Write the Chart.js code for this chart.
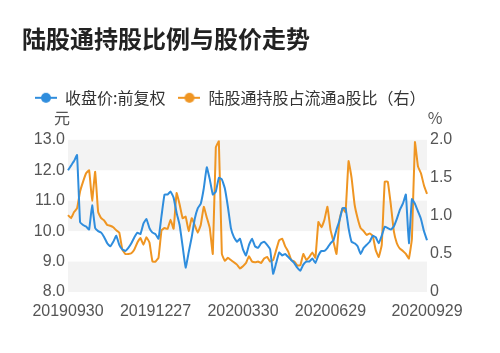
<!DOCTYPE html>
<html>
<head>
<meta charset="utf-8">
<script src="https://cdn.jsdelivr.net/npm/chart.js@4/dist/chart.umd.min.js"></script>
<style>
html, body { margin: 0; padding: 0; background: #fff; }
</style>
</head>
<body>
<canvas id="holdChart" width="500" height="353"></canvas>
<script>
// close price (left axis, 元), sampled evenly across the period
const price = [
  12.0, 12.15, 12.3, 12.5, 10.3, 10.2, 10.15, 10.05, 10.85, 10.1,
  10.0, 9.95, 9.8, 9.6, 9.5, 9.65, 9.85, 9.55, 9.4, 9.35,
  9.45, 9.6, 9.8, 9.95, 9.9, 10.25, 10.4, 10.1, 9.95, 9.9,
  9.75, 10.5, 11.2, 11.2, 11.3, 11.1, 10.6, 10.2, 9.5, 8.8,
  9.3, 9.8, 10.4, 10.75, 10.9, 11.4, 12.1, 11.7, 11.2, 11.3,
  11.75, 11.7, 11.4, 10.8, 10.1, 9.8, 9.65, 9.75, 9.4, 9.2,
  9.55, 9.75, 9.5, 9.45, 9.6, 9.65, 9.55, 9.4, 8.6, 8.95,
  9.3, 9.2, 9.25, 9.15, 9.05, 8.95, 8.8, 8.7, 8.9, 9.0,
  9.0, 9.1, 8.95, 9.2, 9.35, 9.35, 9.45, 9.6, 9.7, 10.05,
  10.35, 10.75, 10.75, 10.1, 9.65, 9.6, 9.5, 9.25, 9.45, 9.55,
  9.65, 9.85, 9.8, 9.6, 9.85, 10.15, 10.1, 10.05, 10.15, 10.4,
  10.7, 10.9, 11.2, 9.6, 11.05, 10.9, 10.65, 10.4, 10.0, 9.7
];

// 陆股通 holding as % of tradable A shares (right axis)
const share = [
  1.01, 0.97, 1.05, 1.1, 1.32, 1.45, 1.56, 1.6, 1.2, 1.58,
  1.05, 0.97, 0.94, 0.88, 0.87, 0.85, 0.81, 0.78, 0.56, 0.5,
  0.5, 0.51, 0.56, 0.65, 0.71, 0.62, 0.72, 0.65, 0.4, 0.4,
  0.45, 0.81, 0.84, 0.83, 0.95, 0.83, 1.3, 1.15, 0.97, 0.99,
  0.8, 0.97, 0.88, 0.78, 0.88, 1.12, 0.98, 0.84, 0.5, 1.9,
  1.98, 0.5, 0.41, 0.45, 0.42, 0.39, 0.36, 0.31, 0.34, 0.38,
  0.47, 0.4, 0.39, 0.4, 0.38, 0.44, 0.46, 0.4, 0.42, 0.55,
  0.68, 0.7, 0.6, 0.53, 0.42, 0.4, 0.35, 0.35, 0.5, 0.42,
  0.46, 0.52, 0.45, 0.92, 0.85, 0.95, 1.12, 0.82, 0.66, 0.5,
  0.95, 1.1, 1.05, 1.72, 1.5, 1.15, 0.97, 0.84, 0.8, 0.75,
  0.77, 0.74, 0.55, 0.46, 0.62, 1.45, 1.45, 1.15, 0.8, 0.64,
  0.57, 0.54, 0.5, 0.44, 0.7, 1.97, 1.65, 1.56, 1.4, 1.29
];

// dates shown on the x axis and the sample they sit on
const tickDates = ['20190930', '20191227', '20200330', '20200629', '20200929'];
const tickIndex = [0, 29, 58, 87, 119];

const seriesNames = ['收盘价:前复权', '陆股通持股占流通a股比（右）'];
const titleText = '陆股通持股比例与股价走势';
const leftUnit = '元';
const rightUnit = '%';

const blue = '#2f8ddd';
const orange = '#ef9522';
const cjk = "'Noto Sans CJK SC', 'Noto Sans', sans-serif";
const latin = "'Liberation Sans', 'Noto Sans CJK SC', sans-serif";

const labels = price.map((_, i) => {
  const k = tickIndex.indexOf(i);
  return k >= 0 ? tickDates[k] : '';
});

function marker(color) {
  const c = document.createElement('canvas');
  c.width = 22; c.height = 12;
  const g = c.getContext('2d');
  g.strokeStyle = color; g.lineWidth = 2;
  g.beginPath(); g.moveTo(0, 6); g.lineTo(22, 6); g.stroke();
  g.fillStyle = color;
  g.beginPath(); g.arc(11, 6, 5, 0, Math.PI * 2); g.fill();
  return c;
}

// grey bands between every other whole number on the left axis
const bands = {
  id: 'bands',
  beforeDatasetsDraw(chart) {
    const { ctx, chartArea: a, scales: { y } } = chart;
    ctx.save();
    ctx.fillStyle = '#f3f3f3';
    for (let v = y.max; v > y.min; v -= 2) {
      const t = y.getPixelForValue(v);
      const b = y.getPixelForValue(v - 1);
      ctx.fillRect(a.left, t, a.right - a.left, b - t);
    }
    ctx.restore();
  }
};

// unit labels above each y axis
const units = {
  id: 'units',
  afterDraw(chart) {
    const { ctx, chartArea: a, scales } = chart;
    ctx.save();
    ctx.font = '16px ' + cjk;
    ctx.fillStyle = '#555';
    ctx.textAlign = 'center';
    ctx.textBaseline = 'middle';
    ctx.fillText(leftUnit, scales.y.right - 6, a.top - 22);
    ctx.fillText(rightUnit, scales.y1.left + 8, a.top - 22);
    ctx.restore();
  }
};

// leave room under the legend for the unit labels
const legendGap = {
  id: 'legendGap',
  beforeInit(chart) {
    const fit = chart.legend.fit;
    chart.legend.fit = function () {
      fit.bind(chart.legend)();
      this.height += 24;
    };
  }
};

new Chart(document.getElementById('holdChart'), {
  type: 'line',
  data: {
    labels: labels,
    datasets: [
      {
        label: seriesNames[0],
        data: price,
        yAxisID: 'y',
        borderColor: blue,
        backgroundColor: blue,
        borderWidth: 2,
        pointRadius: 0,
        pointStyle: marker(blue),
        tension: 0.1
      },
      {
        label: seriesNames[1],
        data: share,
        yAxisID: 'y1',
        borderColor: orange,
        backgroundColor: orange,
        borderWidth: 2,
        pointRadius: 0,
        pointStyle: marker(orange),
        tension: 0.1
      }
    ]
  },
  options: {
    responsive: false,
    animation: false,
    layout: { padding: { left: 22, right: 0, top: 0, bottom: 0 } },
    plugins: {
      title: {
        display: true,
        text: titleText,
        align: 'start',
        color: '#222',
        font: { family: cjk, size: 24, weight: 'bold' },
        padding: { top: 24, bottom: 24 }
      },
      legend: {
        align: 'start',
        labels: {
          usePointStyle: true,
          pointStyleWidth: 22,
          padding: 13,
          color: '#333',
          font: { family: cjk, size: 16 }
        }
      },
      tooltip: { enabled: false }
    },
    scales: {
      x: {
        grid: { display: false, drawTicks: false },
        border: { display: false },
        ticks: {
          autoSkip: false,
          maxRotation: 0,
          padding: 10,
          color: '#555',
          font: { family: latin, size: 16 }
        },
        afterFit(scale) { scale.height = 61; }
      },
      y: {
        position: 'left',
        min: 8,
        max: 13,
        grid: { display: false, drawTicks: false },
        border: { display: false },
        ticks: {
          stepSize: 1,
          padding: 3,
          color: '#555',
          font: { family: latin, size: 16 },
          callback: v => v.toFixed(1)
        },
        afterFit(scale) { scale.width = 46; }
      },
      y1: {
        position: 'right',
        min: 0,
        max: 2,
        grid: { display: false, drawTicks: false },
        border: { display: false },
        ticks: {
          stepSize: 0.5,
          padding: 3,
          color: '#555',
          font: { family: latin, size: 16 },
          callback: v => v === 0 ? '0' : v.toFixed(1)
        },
        afterFit(scale) { scale.width = 73; }
      }
    }
  },
  plugins: [bands, units, legendGap]
});
</script>
</body>
</html>
